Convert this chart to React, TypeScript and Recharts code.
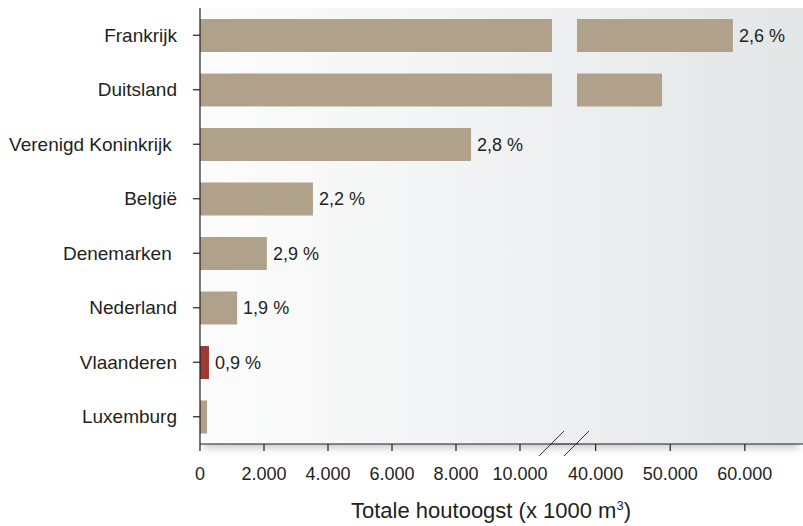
import React from "react";
import { BarChart, Bar, XAxis, YAxis, Cell, LabelList } from "recharts";

const categories = [
  "Frankrijk",
  "Duitsland",
  "Verenigd Koninkrijk\u00A0",
  "België",
  "Denemarken\u00A0",
  "Nederland",
  "Vlaanderen",
  "Luxemburg",
];
// totale houtoogst, x 1000 m3
const volumes = [58400, 48900, 8470, 3530, 2090, 1160, 280, 220];
const shares = ["2,6 %", null, "2,8 %", "2,2 %", "2,9 %", "1,9 %", "0,9 %", null];

const leftTicks = [0, 2000, 4000, 6000, 8000, 10000];
const rightTicks = [40000, 50000, 60000];

const LEFT_DOMAIN: [number, number] = [0, 11000];
const RIGHT_DOMAIN: [number, number] = [37500, 67800];

const BAR = "#b0a18a";
const HIGHLIGHT = "#9d3a32";
const TEXT = "#231f20";
const FONT = "'Liberation Sans', Arial, Helvetica, sans-serif";

const data = categories.map((name, i) => ({
  name,
  value: volumes[i],
  rightValue: volumes[i] > RIGHT_DOMAIN[0] ? volumes[i] : null,
  leftLabel: volumes[i] <= LEFT_DOMAIN[1] ? shares[i] : null,
  rightLabel: volumes[i] > LEFT_DOMAIN[1] ? shares[i] : null,
}));

const fmt = (v: number) => String(v).replace(/\B(?=(\d{3})+(?!\d))/g, ".");

const tickStyle = { fill: TEXT, fontSize: 18, fontFamily: FONT };
const catStyle = { fill: TEXT, fontSize: 19, fontFamily: FONT };
const axisStroke = { stroke: TEXT, strokeWidth: 1.2 };

const renderShare = (props: any) => {
  const { x, y, width, height, value } = props;
  if (!value) return null;
  return (
    <text
      x={x + width + 6}
      y={y + height / 2}
      dominantBaseline="central"
      fill={TEXT}
      fontSize={18}
      fontFamily={FONT}
    >
      {value}
    </text>
  );
};

export default function App() {
  return (
    <div style={{ position: "absolute", left: 0, top: 0, width: 803, height: 526, background: "#fff", fontFamily: FONT }}>
      {/* panel background */}
      <div
        style={{
          position: "absolute",
          left: 200,
          top: 8,
          width: 603,
          height: 436,
          background: "linear-gradient(to right, #fcfcfc 0%, #f3f4f5 40%, #e2e6e7 100%)",
          boxShadow: "0 8px 8px -4px rgba(0,0,0,0.22)",
        }}
      />

      <div style={{ position: "absolute", left: 0, top: 0 }}>
        <BarChart
          width={552}
          height={526}
          data={data}
          layout="vertical"
          margin={{ top: 8, right: 0, bottom: 0, left: 0 }}
          barSize={33}
        >
          <XAxis
            type="number"
            domain={LEFT_DOMAIN}
            ticks={leftTicks}
            allowDataOverflow
            tickFormatter={fmt}
            height={82}
            tickSize={7}
            tickMargin={16}
            tick={tickStyle}
            axisLine={axisStroke}
            tickLine={axisStroke}
            interval={0}
          />
          <YAxis
            type="category"
            dataKey="name"
            width={200}
            tickSize={7}
            tickMargin={16}
            tick={catStyle}
            axisLine={axisStroke}
            tickLine={axisStroke}
            interval={0}
          />
          <Bar dataKey="value" isAnimationActive={false}>
            {data.map((d) => (
              <Cell key={d.name} fill={d.name === "Vlaanderen" ? HIGHLIGHT : BAR} />
            ))}
            <LabelList dataKey="leftLabel" content={renderShare} />
          </Bar>
        </BarChart>
      </div>

      <div style={{ position: "absolute", left: 527, top: 0 }}>
        <BarChart
          width={276}
          height={526}
          data={data}
          layout="vertical"
          margin={{ top: 8, right: 0, bottom: 0, left: 50 }}
          barSize={33}
        >
          <XAxis
            type="number"
            domain={RIGHT_DOMAIN}
            ticks={rightTicks}
            allowDataOverflow
            tickFormatter={fmt}
            height={82}
            tickSize={7}
            tickMargin={16}
            tick={tickStyle}
            axisLine={axisStroke}
            tickLine={axisStroke}
            interval={0}
          />
          <YAxis type="category" dataKey="name" hide width={0} />
          <Bar dataKey="rightValue" fill={BAR} isAnimationActive={false}>
            <LabelList dataKey="rightLabel" content={renderShare} />
          </Bar>
        </BarChart>
      </div>

      {/* axis break */}
      <svg width={803} height={526} style={{ position: "absolute", left: 0, top: 0, pointerEvents: "none" }}>
        <line x1={551} y1={444} x2={578} y2={444} stroke={TEXT} strokeWidth={1.2} />
        <line x1={539} y1={456} x2={564} y2={431} stroke="#333" strokeWidth={1} />
        <line x1={564} y1={456} x2={589} y2={431} stroke="#333" strokeWidth={1} />
      </svg>

      <div
        style={{
          position: "absolute",
          left: 200,
          width: 582,
          top: 498,
          textAlign: "center",
          fontSize: 22,
          color: TEXT,
          lineHeight: "26px",
          whiteSpace: "nowrap",
        }}
      >
        Totale houtoogst (x 1000 m<sup style={{ fontSize: 13, lineHeight: 0 }}>3</sup>)
      </div>
    </div>
  );
}
